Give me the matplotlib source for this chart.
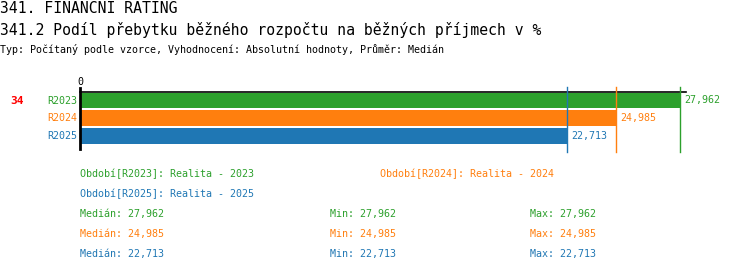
import matplotlib
matplotlib.use("Agg")
import matplotlib.pyplot as plt

# Data
periods = ["R2023", "R2024", "R2025"]
values = [27.962, 24.985, 22.713]
value_labels = ["27,962", "24,985", "22,713"]
colors = ["#2ca02c", "#ff7f0e", "#1f77b4"]
period_names = ["Realita - 2023", "Realita - 2024", "Realita - 2025"]
rank = "34"

W, H = 750, 272
fig = plt.figure(figsize=(W / 100, H / 100), dpi=100)
plt.rcParams["font.family"] = ["DejaVu Sans Mono"]

def fx(px):
    return px / W

def fy(py):
    return 1 - py / H

# Headings
fig.text(fx(0), fy(13), "341. FINANČNÍ RATING", fontsize=10.6, va="baseline", ha="left")
fig.text(fx(0), fy(35), "341.2 Podíl přebytku běžného rozpočtu na běžných příjmech v %",
         fontsize=10.6, va="baseline", ha="left")
fig.text(fx(0), fy(53), "Typ: Počítaný podle vzorce, Vyhodnocení: Absolutní hodnoty, Průměr: Medián",
         fontsize=7.2, va="baseline", ha="left")

# Bar axes
x0, x1 = 80, 686
y0, y1 = 87, 152
ax = fig.add_axes([fx(x0), fy(y1), (x1 - x0) / W, (y1 - y0) / H])
xmax = 28.25
unit = 17.75  # pixels per category step
top = -13.5 / unit
bottom = 2 + 16 / unit
ax.set_xlim(0, xmax)
ax.set_ylim(bottom, top)
for s in ax.spines.values():
    s.set_visible(False)
ax.set_xticks([])
ax.set_yticks([])
ax.patch.set_alpha(0)

ypos = list(range(len(periods)))
ax.barh(ypos, values, height=0.9, color=colors, zorder=2)

# Top axis line and zero axis
ax.plot([0, xmax], [top + 5 / unit, top + 5 / unit], color="black", lw=1.2, zorder=3, clip_on=False)
ax.plot([0, 0], [top + 1 / unit, 2 + 13 / unit], color="black", lw=2, zorder=3, clip_on=False)
ax.text(0, top - 5 / unit, "0", fontsize=7.2, ha="center", va="center", clip_on=False)

for y, v, lab, c, p in zip(ypos, values, value_labels, colors, periods):
    ax.plot([v, v], [top, bottom], color=c, lw=1, zorder=3, clip_on=False)
    ax.annotate(lab, (v, y), xytext=(3, 0), textcoords="offset points",
                fontsize=7.2, color=c, va="center", ha="left")
    ax.annotate(p, (0, y), xytext=(-2, 0), textcoords="offset points",
                fontsize=7.2, color=c, va="center", ha="right")

fig.text(fx(17), fy(101), rank, fontsize=8, color="red", fontweight="bold",
         ha="center", va="center")

# Legend of periods
fig.text(fx(80), fy(174), f"Období[{periods[0]}]: {period_names[0]}", fontsize=7.2,
         color=colors[0], va="center")
fig.text(fx(380), fy(174), f"Období[{periods[1]}]: {period_names[1]}", fontsize=7.2,
         color=colors[1], va="center")
fig.text(fx(80), fy(194), f"Období[{periods[2]}]: {period_names[2]}", fontsize=7.2,
         color=colors[2], va="center")

# Summary statistics
for i, (lab, c) in enumerate(zip(value_labels, colors)):
    yy = fy(214 + 20 * i)
    fig.text(fx(80), yy, f"Medián: {lab}", fontsize=7.2, color=c, va="center")
    fig.text(fx(330), yy, f"Min: {lab}", fontsize=7.2, color=c, va="center")
    fig.text(fx(530), yy, f"Max: {lab}", fontsize=7.2, color=c, va="center")

fig.savefig("out.png", dpi=100)
